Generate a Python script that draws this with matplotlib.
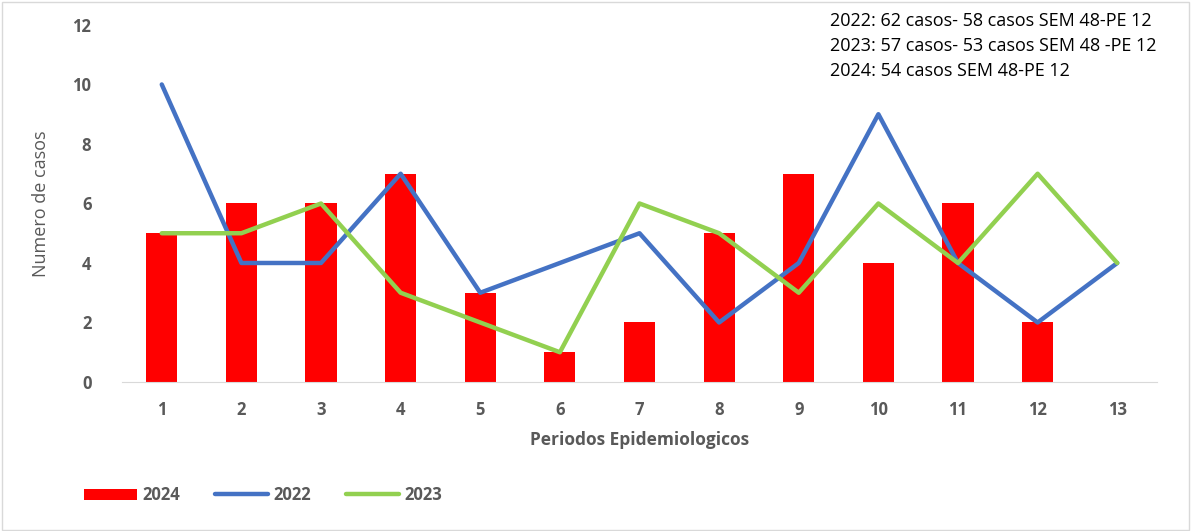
import matplotlib
matplotlib.use("Agg")
import matplotlib.pyplot as plt
import numpy as np

plt.rcParams['font.family'] = ['Open Sans', 'DejaVu Sans']

periodos = list(range(1, 14))
casos_2024 = [5, 6, 6, 7, 3, 1, 2, 5, 7, 4, 6, 2, 0]
casos_2022 = [10, 4, 4, 7, 3, 4, 5, 2, 4, 9, 4, 2, 4]
casos_2023 = [5, 5, 6, 3, 2, 1, 6, 5, 3, 6, 4, 7, 4]
notas = ["2022: 62 casos- 58 casos SEM 48-PE 12",
         "2023: 57 casos- 53 casos SEM 48 -PE 12",
         "2024: 54 casos SEM 48-PE 12"]

gris = '#595959'
fig = plt.figure(figsize=(11.91, 5.31), dpi=100)
ax = fig.add_axes([0.1024, 0.2806, 0.8691, 0.6724])

b = ax.bar(periodos, casos_2024, width=0.39, color='#FF0000', label='2024', zorder=2)
l1, = ax.plot(periodos, casos_2022, color='#4472C4', lw=3.2, label='2022', zorder=3,
              solid_capstyle='round')
l2, = ax.plot(periodos, casos_2023, color='#92D050', lw=3.2, label='2023', zorder=3,
              solid_capstyle='round')

ax.set_xlim(0.5, 13.5)
ax.set_ylim(0, 12)
ax.set_xticks(periodos)
ax.set_xticklabels([str(p) for p in periodos], fontweight='bold')
ax.set_yticks(range(0, 13, 2))
ax.set_yticklabels([str(v) for v in range(0, 13, 2)], fontweight='bold')
for s in ['top', 'right', 'left']:
    ax.spines[s].set_visible(False)
ax.spines['bottom'].set_color('#D9D9D9')
ax.tick_params(length=0, labelsize=12, labelcolor=gris, pad=14)
ax.tick_params(axis='y', pad=22)

ax.set_xlabel('Periodos Epidemiologicos', fontsize=12.5, fontweight='bold', color=gris, labelpad=8)
ax.set_ylabel('Numero de casos', fontsize=13, fontweight='medium', color=gris, labelpad=16)

fig.text(0.697, 0.978, "\n".join(notas), fontsize=13, color='black',
         va='top', ha='left', linespacing=1.5)

fig.legend([b, l1, l2], ['2024', '2022', '2023'], loc='lower left',
           bbox_to_anchor=(0.058, 0.022), ncol=3, frameon=False,
           prop={'weight': 'bold', 'size': 12}, handlelength=3.2,
           columnspacing=2.1, handletextpad=0.3, labelcolor=gris)

fig.patches.append(plt.Rectangle((0.002, 0.002), 0.996, 0.995, transform=fig.transFigure,
                                 fill=False, edgecolor='#D9D9D9', lw=1))

fig.savefig('out.png', dpi=100)
